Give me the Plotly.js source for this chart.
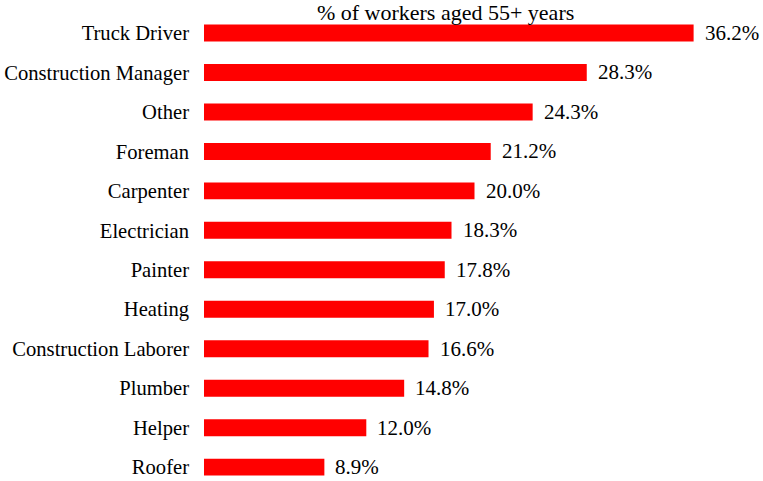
<!DOCTYPE html>
<html>
<head>
<meta charset="utf-8">
<script src="https://cdn.plot.ly/plotly-3.0.1.min.js"></script>
<style>
  html, body { margin: 0; padding: 0; background: #fff; }
  #chart { width: 763px; height: 481px; }
</style>
</head>
<body>
<div id="chart"></div>
<script>
// occupations, top to bottom
var occupations = ['Truck Driver', 'Construction Manager', 'Other', 'Foreman', 'Carpenter',
  'Electrician', 'Painter', 'Heating', 'Construction Laborer', 'Plumber', 'Helper', 'Roofer'];
var shareOld = [36.2, 28.3, 24.3, 21.2, 20.0, 18.3, 17.8, 17.0, 16.6, 14.8, 12.0, 8.9];

var labels = shareOld.map(function (v) { return v.toFixed(1) + '%'; });

var trace = {
  type: 'bar',
  orientation: 'h',
  y: occupations,
  x: shareOld,
  marker: { color: '#ff0000' },
  width: 0.43,
  hoverinfo: 'none'
};

// value labels a bit off the bar end
var valueNotes = occupations.map(function (c, i) {
  return {
    x: shareOld[i], y: c, xref: 'x', yref: 'y',
    text: labels[i], showarrow: false,
    xanchor: 'left', yanchor: 'middle', xshift: 9,
    font: { family: 'Liberation Serif', size: 21, color: '#000' }
  };
});

var layout = {
  width: 763,
  height: 481,
  margin: { l: 204, r: 18, t: 20, b: 4 },
  paper_bgcolor: '#fff',
  plot_bgcolor: '#fff',
  showlegend: false,
  font: { family: 'Liberation Serif', size: 21, color: '#000' },
  title: {
    text: '% of workers aged 55+ years',
    font: { family: 'Liberation Serif', size: 22, color: '#000' },
    xref: 'container', x: 0.584, xanchor: 'center',
    yref: 'container', y: 0.975, yanchor: 'middle'
  },
  xaxis: {
    range: [0, 40],
    visible: false,
    fixedrange: true
  },
  yaxis: {
    type: 'category',
    range: [11.25, -0.33],
    showgrid: false,
    zeroline: false,
    showline: false,
    ticks: '',
    ticklabelstandoff: 14,
    tickfont: { family: 'Liberation Serif', size: 20.6, color: '#000' },
    fixedrange: true
  },
  annotations: valueNotes
};

Plotly.newPlot('chart', [trace], layout, { displayModeBar: false, staticPlot: true });
</script>
</body>
</html>
